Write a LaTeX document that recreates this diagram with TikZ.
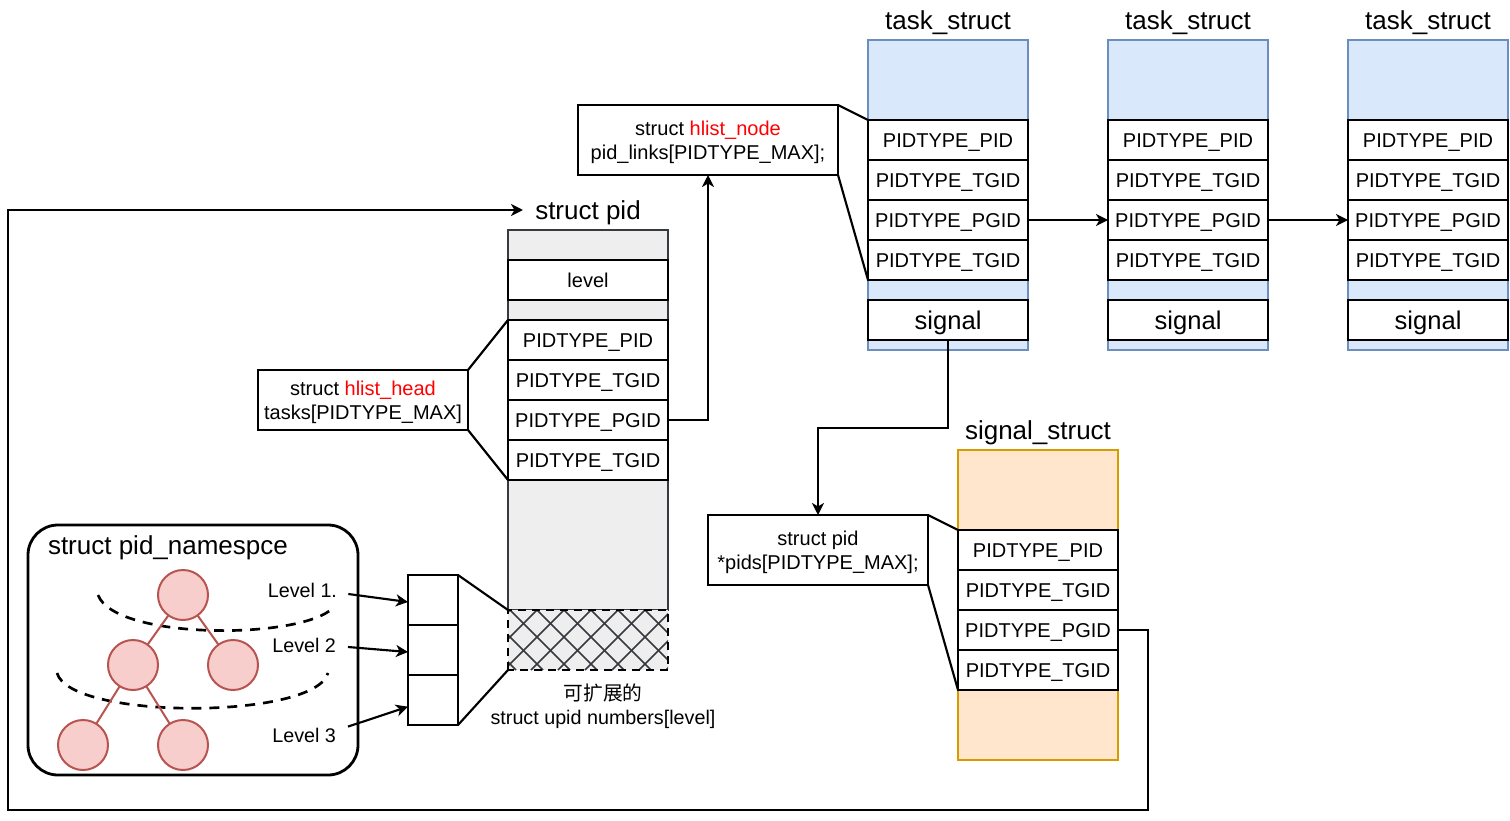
\documentclass[tikz,border=0pt]{standalone}
\usepackage{fontspec}
\setmainfont{Liberation Sans}
\newfontfamily\cjk{Noto Sans CJK SC}
\usetikzlibrary{arrows.meta}

\definecolor{taskfill}{HTML}{DAE8FC}
\definecolor{taskline}{HTML}{6C8EBF}
\definecolor{sigfill}{HTML}{FFE6CC}
\definecolor{sigline}{HTML}{D79B00}
\definecolor{pidfill}{HTML}{EEEEEE}
\definecolor{pidline}{HTML}{36393D}
\definecolor{nodefill}{HTML}{F8CECC}
\definecolor{nodeline}{HTML}{B85450}
\definecolor{hot}{HTML}{FF0000}

\begin{document}
\begin{tikzpicture}[x=0.75pt,y=-0.75pt,
  every node/.style={inner sep=0pt, outer sep=0pt},
  boxline/.style={line width=2.1pt},
  cell/.style={draw=black, fill=white, boxline, anchor=north west,
    minimum width=120pt, minimum height=30pt, text height=10.8pt, text depth=0pt,
    font=\fontsize{15}{18}\selectfont},
  bigcell/.style={cell, text height=13.8pt, font=\fontsize{19.2}{22}\selectfont},
  upcell/.style={draw=black, fill=white, boxline, anchor=north west,
    minimum width=37.5pt, minimum height=37.5pt},
  taskbox/.style={draw=taskline, fill=taskfill, boxline, anchor=north west,
    minimum width=120pt, minimum height=232.5pt},
  title/.style={font=\fontsize{19.5}{22}\selectfont, text height=14pt, text depth=0pt},
  calloutbox/.style={draw=black, fill=white, boxline, anchor=north west},
  callouttext/.style={align=center, font=\fontsize{15}{18}\selectfont},
  label/.style={font=\fontsize{14.8}{18}\selectfont, text height=10.6pt, text depth=0pt},
  link/.style={line width=1.6pt, draw=black},
  arr/.style={link, -{Stealth[length=9pt,width=9pt,inset=2.6pt]}},
  pidnode/.style={circle, draw=nodeline, fill=nodefill, line width=1.5pt, minimum size=37.5pt},
  treeedge/.style={draw=nodeline, line width=1.5pt},
  levelcut/.style={draw=black, line width=2pt, dash pattern=on 7.5pt off 6pt},
  hatchline/.style={draw=pidline, line width=1.3pt}
]
\useasboundingbox (0,0) rectangle (1510,821);

% ---------- three task_struct instances ----------
\foreach \i/\x in {1/868,2/1108,3/1348} {
  \node[taskbox] (t\i) at (\x,40) {};
  \node[title] (t\i-title) at (\x+80,20) {task\_struct};
  \node[cell] (t\i-pid)   at (\x,120) {PIDTYPE\_PID};
  \node[cell] (t\i-tgid)  at (\x,160) {PIDTYPE\_TGID};
  \node[cell] (t\i-pgid)  at (\x,200) {PIDTYPE\_PGID};
  \node[cell] (t\i-tgidb) at (\x,240) {PIDTYPE\_TGID};
  \node[bigcell] (t\i-sig) at (\x,300) {signal};
}
\draw[arr] (t1-pgid.east) -- (t2-pgid.west);
\draw[arr] (t2-pgid.east) -- (t3-pgid.west);

% ---------- pid_links callout ----------
\node[calloutbox, minimum width=195pt, minimum height=52.5pt] (cnode) at (578,105) {};
\node[callouttext] (cnode-text) at ([yshift=-2pt]cnode.center)
  {struct \textcolor{hot}{hlist\_node}\\pid\_links[PIDTYPE\_MAX];};
\draw[link] (cnode.north east) -- (t1-pid.north west);
\draw[link] (cnode.south east) -- (t1-tgidb.south west);

% ---------- struct pid ----------
\node[title] (pidtitle) at (588,210) {struct pid};
\node[draw=pidline, fill=pidfill, boxline, anchor=north west,
  minimum width=120pt, minimum height=285pt] (pid) at (508,230) {};
\node[cell] (plevel) at (508,260) {level};
\node[cell] (ppid)   at (508,320) {PIDTYPE\_PID};
\node[cell] (ptgid)  at (508,360) {PIDTYPE\_TGID};
\node[cell] (ppgid)  at (508,400) {PIDTYPE\_PGID};
\node[cell] (ptgidb) at (508,440) {PIDTYPE\_TGID};

% extensible upid array, cross-hatched
\node[fill=pidfill, anchor=north west, minimum width=120pt, minimum height=45pt] (hatch) at (508,610) {};
\begin{scope}
  \clip (hatch.south west) rectangle (hatch.north east);
  \foreach \k in {-4,...,9} {
    \draw[hatchline] (510+27*\k,610) -- (570+27*\k,670);
    \draw[hatchline] (510+27*\k,610) -- (450+27*\k,670);
  }
\end{scope}
\draw[draw=black, line width=1.8pt, dash pattern=on 6pt off 4.5pt]
  (hatch.south west) rectangle (hatch.north east);
\node[label] (extcn) at (603,693) {\cjk 可扩展的};
\node[label] (extname) at (603,717) {struct upid numbers[level]};

% tasks callout
\node[calloutbox, minimum width=157.5pt, minimum height=45pt] (chead) at (258,370) {};
\node[callouttext] (chead-text) at ([yshift=-2pt]chead.center)
  {struct \textcolor{hot}{hlist\_head}\\tasks[PIDTYPE\_MAX]};
\draw[link] (chead.north east) -- (ppid.north west);
\draw[link] (chead.south east) -- (ptgidb.south west);

\draw[arr] (ppgid.east) -| (cnode.south);

% ---------- signal_struct ----------
\node[title] (sigtitle) at (1038,430) {signal\_struct};
\node[draw=sigline, fill=sigfill, boxline, anchor=north west,
  minimum width=120pt, minimum height=232.5pt] (sig) at (958,450) {};
\node[cell] (spid)   at (958,530) {PIDTYPE\_PID};
\node[cell] (stgid)  at (958,570) {PIDTYPE\_TGID};
\node[cell] (spgid)  at (958,610) {PIDTYPE\_PGID};
\node[cell] (stgidb) at (958,650) {PIDTYPE\_TGID};

\node[calloutbox, minimum width=165pt, minimum height=52.5pt] (cpids) at (708,515) {};
\node[callouttext] (cpids-text) at ([yshift=-2pt]cpids.center)
  {struct pid\\*pids[PIDTYPE\_MAX];};
\draw[link] (cpids.north east) -- (spid.north west);
\draw[link] (cpids.south east) -- (stgidb.south west);

\coordinate (sigbend) at (883,428);
\draw[arr] (t1-sig.south) |- (sigbend) -| (cpids.north);

% ---------- pid namespace ----------
\node[draw=black, fill=white, boxline, rounded corners=22.5pt, anchor=north west,
  minimum width=247.5pt, minimum height=187.5pt] (ns) at (28,525) {};
\node[title, anchor=west] (nstitle) at (48,545) {struct pid\_namespce};

\draw[levelcut] (98,595) .. controls (115,640) and (300,640) .. (333,608);
\draw[levelcut] (57,673) .. controls (70,720) and (315,720) .. (328,673);

\node[pidnode] (n1) at (183,595) {};
\node[pidnode] (n2) at (133,665) {};
\node[pidnode] (n3) at (233,665) {};
\node[pidnode] (n4) at (83,745) {};
\node[pidnode] (n5) at (183,745) {};
\draw[treeedge] (n1) -- (n2);
\draw[treeedge] (n1) -- (n3);
\draw[treeedge] (n2) -- (n4);
\draw[treeedge] (n2) -- (n5);

\node[label, anchor=east] (lv1) at (337,590) {Level 1.};
\node[label, anchor=east] (lv2) at (336,645) {Level 2};
\node[label, anchor=east] (lv3) at (336,735) {Level 3};

\node[upcell] (u1) at (408,575) {};
\node[upcell] (u2) at (408,625) {};
\node[upcell] (u3) at (408,675) {};
\draw[link] (u1.north east) -- (hatch.north west);
\draw[link] (u3.south east) -- (hatch.south west);

\draw[arr] ([xshift=8.5pt,yshift=-3pt]lv1.east) -- ([yshift=-1.5pt]u1.west);
\draw[arr] ([xshift=9pt,yshift=-1.5pt]lv2.east) -- ([yshift=-1.5pt]u2.west);
\draw[arr] ([xshift=9pt,yshift=1pt]lv3.north east) -- ([yshift=-5pt]u3.west);

% ---------- loop back from signal_struct to struct pid ----------
\coordinate (loopa) at (1148,810);
\coordinate (loopb) at (8,210);
\coordinate (pidin) at (523,210);
\draw[arr] (spgid.east) -| (loopa) -| (loopb) -- (pidin);
\end{tikzpicture}
\end{document}
